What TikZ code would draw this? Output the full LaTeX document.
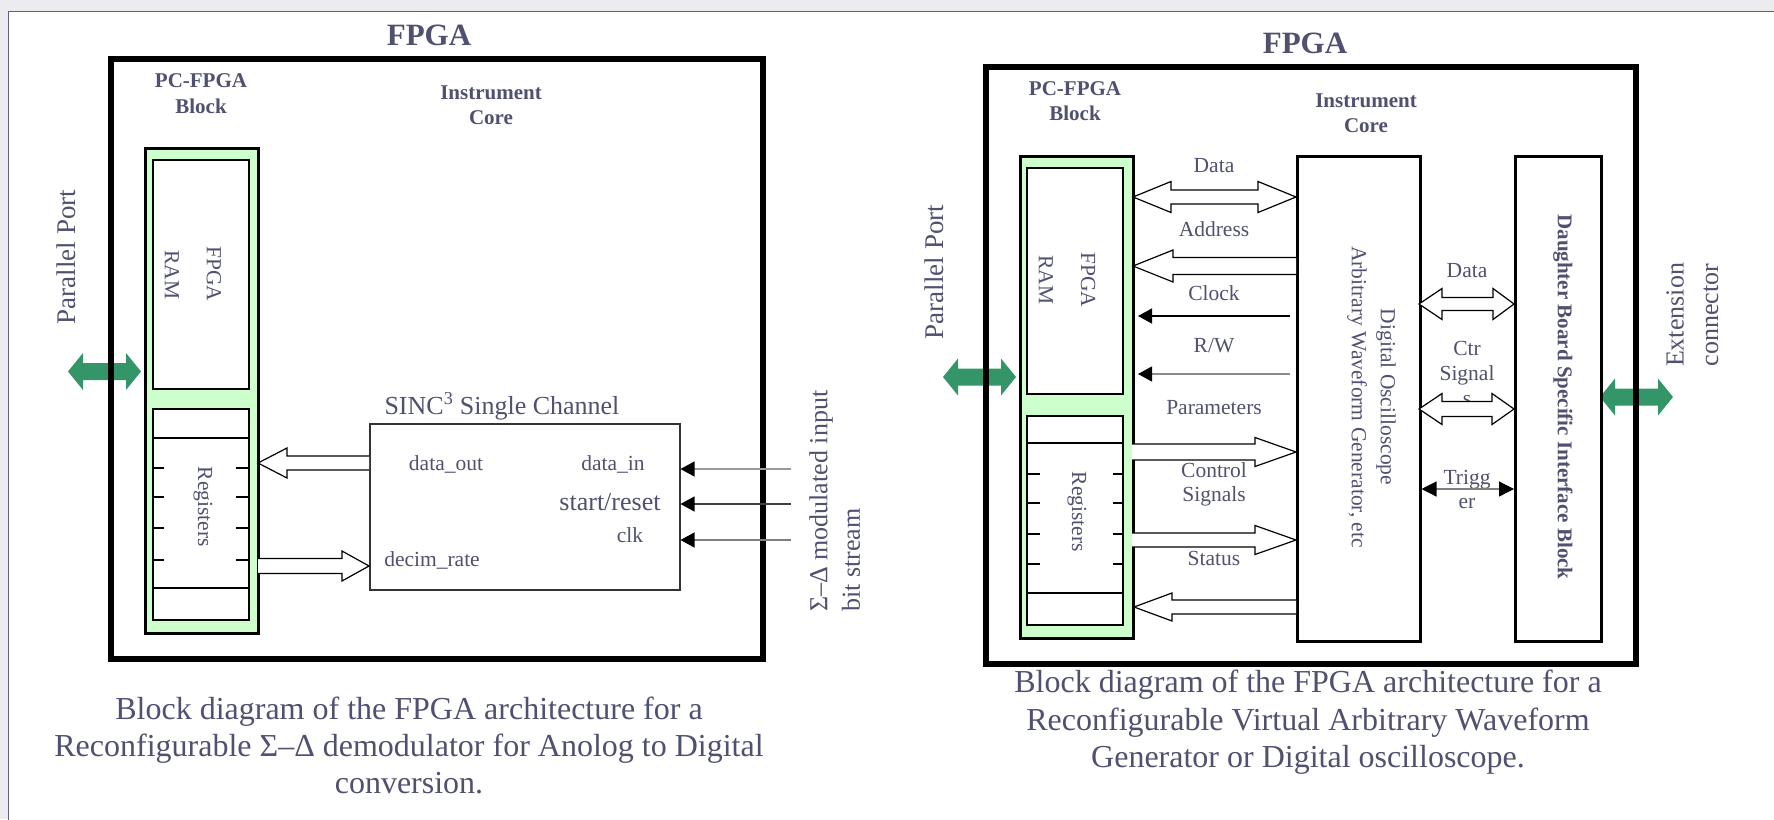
\documentclass[tikz,border=0pt]{standalone}
\usepackage{fontspec}
\setmainfont{Liberation Serif}
\usetikzlibrary{arrows.meta}
\definecolor{txt}{RGB}{80,80,112}
\definecolor{grn}{RGB}{52,150,104}
\definecolor{lgrn}{RGB}{204,255,204}
\definecolor{bgc}{RGB}{236,235,240}
\definecolor{framec}{RGB}{95,95,128}
\newcommand\hollowS[6]{% start x, tip x, base x, y, shaft half, head half
  \filldraw[hollow] (#1,#4-#5) -- (#3,#4-#5) -- (#3,#4-#6) -- (#2,#4) -- (#3,#4+#6) -- (#3,#4+#5) -- (#1,#4+#5);}
\newcommand\hollowD[7]{% tipL, baseL, baseR, tipR, y, shaft half, head half
  \filldraw[hollow] (#1,#5) -- (#2,#5-#7) -- (#2,#5-#6) -- (#3,#5-#6) -- (#3,#5-#7) -- (#4,#5) -- (#3,#5+#7) -- (#3,#5+#6) -- (#2,#5+#6) -- (#2,#5+#7) -- cycle;}
\newcommand\greenD[2]{%
  \fill[grn] (#1,#2) -- ++(15,-18.5) -- ++(0,10) -- ++(43,0) -- ++(0,-10) -- ++(15,18.5) -- ++(-15,18.5) -- ++(0,-10) -- ++(-43,0) -- ++(0,10) -- cycle;}
\tikzset{
  x=1pt, y=-1pt,
  lbl/.style={text=txt, inner sep=0pt, anchor=base, font=\fontsize{21.5}{26}\selectfont},
  blbl/.style={lbl, font=\bfseries\fontsize{21}{26}\selectfont},
  bigtxt/.style={lbl, font=\fontsize{26}{30}\selectfont},
  captxt/.style={lbl, font=\fontsize{32}{38}\selectfont},
  ttltxt/.style={lbl, font=\bfseries\fontsize{31}{36}\selectfont},
  rottxt/.style={text=txt, inner sep=0pt, anchor=center},
  boxsty/.style={draw=black, line width=2.2pt, fill=white, inner sep=0pt, anchor=north west},
  outerbox/.style={draw=black, line width=6pt, inner sep=0pt, anchor=north west},
  gcol/.style={boxsty, fill=lgrn, line width=2.5pt},
  hollow/.style={draw=black, fill=white, line width=1.2pt, line join=miter},
  ticksty/.style={line width=2pt},
  thinarr/.style={line width=1.2pt, -{Triangle[length=14pt,width=15pt,color=black]}},
  trigarr/.style={line width=1.2pt, draw=gray, {Triangle[length=15pt,width=15pt,color=black]}-{Triangle[length=15pt,width=15pt,color=black]}},
}
\begin{document}
\begin{tikzpicture}
\useasboundingbox (0,0) rectangle (1774,819);
\fill[bgc] (0,0) rectangle (1774,819);
\draw[framec, line width=1.5pt, fill=white] (8.5,11.5) rectangle (1800,840);

% ================= LEFT DIAGRAM =================
\greenD{68}{371.5}
\node[outerbox, minimum width=652, minimum height=600] (Louter) at (108,56) {};
\node[gcol, minimum width=113, minimum height=485] (Lgreen) at (144,147) {};
\node[boxsty, line width=2pt, minimum width=96.5, minimum height=229] (Lram) at (151.5,159) {};
\node[boxsty, line width=2pt, minimum width=96.5, minimum height=211] (Lreg) at (151.5,408) {};
\draw[line width=2pt] (151.5,438) -- (248,438) (151.5,588) -- (248,588);
\foreach \yy in {468,497,528,560} {
  \draw[ticksty] (151.5,\yy) -- (164,\yy) (236,\yy) -- (248,\yy);
}
\node[boxsty, line width=1.5pt, draw=black!80, minimum width=310, minimum height=166] (sinc) at (369,423) {};

\node[ttltxt] (LT) at (429,45) {FPGA};
\node[blbl] (Lpc1) at (201,87) {PC-FPGA};
\node[blbl] (Lpc2) at (201,113) {Block};
\node[blbl] (Lic1) at (491,99) {Instrument};
\node[blbl] (Lic2) at (491,124) {Core};
\node[rottxt, rotate=90, font=\fontsize{27}{30}\selectfont] (Lpp) at (66,257) {Parallel Port};
\node[rottxt, rotate=-90, font=\fontsize{21.5}{26}\selectfont] (Lfp) at (214,274) {FPGA};
\node[rottxt, rotate=-90, font=\fontsize{21.5}{26}\selectfont] (Lrm) at (172,275) {RAM};
\node[rottxt, rotate=-90, font=\fontsize{21.5}{26}\selectfont] (Lrg) at (203,507) {Registers};
\node[bigtxt] (Lsinc) at (502,414) {SINC\textsuperscript{3} Single Channel};
\node[lbl] (Ldo) at (446,470) {data\_out};
\node[lbl] (Ldi) at (613,470) {data\_in};
\node[bigtxt] (Lsr) at (610,510) {start/reset};
\node[lbl] (Lclk) at (630,542) {clk};
\node[lbl] (Ldr) at (432,566) {decim\_rate};
\node[rottxt, rotate=90, anchor=west, font=\fontsize{26}{30}\selectfont] (Lsd1) at (821,612) {Σ–Δ modulated input};
\node[rottxt, rotate=90, anchor=west, font=\fontsize{26}{30}\selectfont] (Lsd2) at (851,612) {bit stream};

\hollowS{369}{258}{287}{463}{7}{15}
\hollowS{258}{369}{342}{566}{7.5}{15}

\coordinate (in1) at (791,469);
\coordinate (in2) at (791,504);
\coordinate (in3) at (791,540);
\draw[thinarr, draw=black!40] (in1) -- (sinc.east |- in1);
\draw[thinarr, draw=black!75] (in2) -- (sinc.east |- in2);
\draw[thinarr, draw=black!50] (in3) -- (sinc.east |- in3);

\node[captxt] (Lc1) at (409,719) {Block diagram of the FPGA architecture for a};
\node[captxt] (Lc2) at (409,756) {Reconfigurable Σ–Δ demodulator for Anolog to Digital};
\node[captxt] (Lc3) at (409,793) {conversion.};

% ================= RIGHT DIAGRAM =================
\greenD{943}{377}
\greenD{1600}{397}
\node[outerbox, minimum width=650, minimum height=597] (Router) at (983,64) {};
\node[gcol, minimum width=113, minimum height=482] (Rgreen) at (1019,155) {};
\node[boxsty, line width=2pt, minimum width=96, minimum height=226] (Rram) at (1026,167) {};
\node[boxsty, line width=2pt, minimum width=96, minimum height=209] (Rreg) at (1026,415) {};
\draw[line width=2pt] (1026,443) -- (1122,443) (1026,593) -- (1122,593);
\foreach \yy in {474,503,534,564} {
  \draw[ticksty] (1026,\yy) -- (1040,\yy) (1113,\yy) -- (1122,\yy);
}
\node[boxsty, line width=2.5pt, minimum width=123, minimum height=485] (core) at (1296,155) {};
\node[boxsty, line width=2.5pt, minimum width=86, minimum height=485] (daughter) at (1514,155) {};

\node[ttltxt] (RT) at (1305,53) {FPGA};
\node[blbl] (Rpc1) at (1075,95) {PC-FPGA};
\node[blbl] (Rpc2) at (1075,120) {Block};
\node[blbl] (Ric1) at (1366,107) {Instrument};
\node[blbl] (Ric2) at (1366,132) {Core};
\node[rottxt, rotate=90, font=\fontsize{27}{30}\selectfont] (Rpp) at (934,272) {Parallel Port};
\node[rottxt, rotate=-90, font=\fontsize{21.5}{26}\selectfont] (Rfp) at (1088,280) {FPGA};
\node[rottxt, rotate=-90, font=\fontsize{21.5}{26}\selectfont] (Rrm) at (1046,280) {RAM};
\node[rottxt, rotate=-90, font=\fontsize{21.5}{26}\selectfont] (Rrg) at (1077,512) {Registers};
\node[rottxt, rotate=-90, font=\fontsize{21.5}{26}\selectfont] (Rdo1) at (1386,397) {Digital Oscilloscope};
\node[rottxt, rotate=-90, font=\fontsize{21.5}{26}\selectfont] (Rdo2) at (1357,397) {Arbitrary Waveform Generator, etc};
\node[rottxt, rotate=-90, font=\bfseries\fontsize{21}{26}\selectfont] (Rdb) at (1563,397) {Daughter Board Specific Interface Block};
\node[rottxt, rotate=90, font=\fontsize{26}{30}\selectfont] (Rex1) at (1675,315) {Extension};
\node[rottxt, rotate=90, font=\fontsize{26}{30}\selectfont] (Rex2) at (1711,315) {connector};

\node[lbl] (RlD) at (1214,172) {Data};
\node[lbl] (RlA) at (1214,236) {Address};
\node[lbl] (RlC) at (1214,300) {Clock};
\node[lbl] (RlR) at (1214,352) {R/W};
\node[lbl] (RlP) at (1214,414) {Parameters};
\node[lbl] (RlCS1) at (1214,477) {Control};
\node[lbl] (RlCS2) at (1214,501) {Signals};
\node[lbl] (RlS) at (1214,565) {Status};
\node[lbl] (RrD) at (1467,277) {Data};
\node[lbl] (RrC1) at (1467,355) {Ctr};
\node[lbl] (RrC2) at (1467,380) {Signal};
\node[lbl] (RrC3) at (1467,405) {s};
\node[lbl] (RrT1) at (1467,484) {Trigg};
\node[lbl] (RrT2) at (1467,508) {er};

\hollowD{1133}{1171}{1258}{1296}{197}{7}{15.5}
\hollowS{1296}{1133}{1173}{266}{8.5}{16}
\hollowS{1132}{1296}{1255}{452}{8}{14.5}
\hollowS{1132}{1296}{1255}{540}{7}{14.5}
\hollowS{1296}{1134}{1172}{607}{7}{14}
\hollowD{1419}{1442}{1493}{1514}{304}{6.5}{15.5}
\hollowD{1419}{1442}{1492}{1514}{409}{7.5}{15.5}

\coordinate (clkS) at (1290,316);
\coordinate (clkE) at (1138,316);
\coordinate (rwS) at (1290,374);
\coordinate (rwE) at (1138,374);
\draw[thinarr, draw=black] (clkS) -- (clkE);
\draw[thinarr, draw=black!45] (rwS) -- (rwE);
\coordinate (trig) at (1466,489);
\draw[trigarr] (core.east |- trig) -- (daughter.west |- trig);

\node[captxt] (Rc1) at (1308,692) {Block diagram of the FPGA architecture for a};
\node[captxt] (Rc2) at (1308,730) {Reconfigurable Virtual Arbitrary Waveform};
\node[captxt] (Rc3) at (1308,767) {Generator or Digital oscilloscope.};
\end{tikzpicture}
\end{document}
